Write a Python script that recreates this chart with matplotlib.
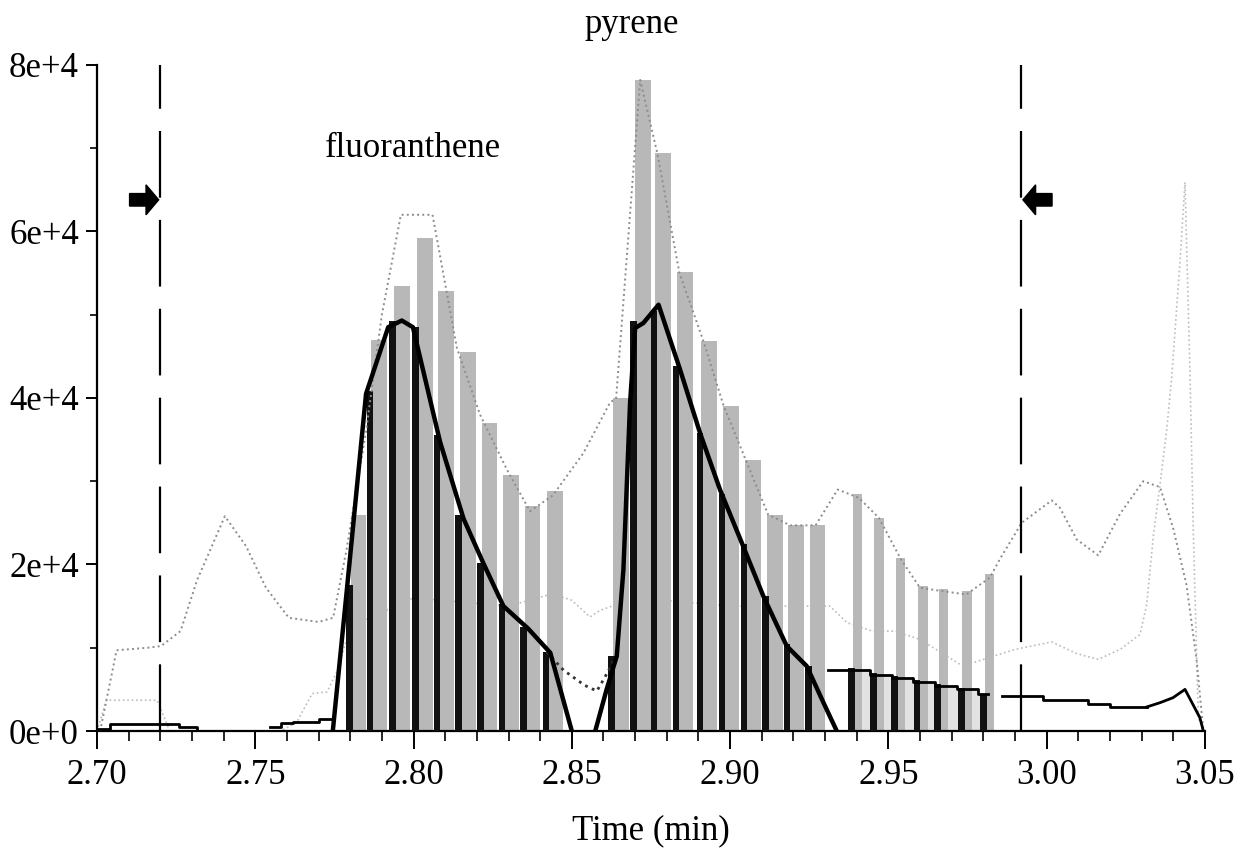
import numpy as np
import matplotlib
matplotlib.use("Agg")
import matplotlib.pyplot as plt
from matplotlib.patches import FancyArrow
from matplotlib.ticker import MultipleLocator, FuncFormatter

plt.rcParams['font.family'] = ['Liberation Serif', 'DejaVu Serif']
plt.rcParams['font.size'] = 25

# scan times (min) and intensities (units of 1e4)
scan_fl = [2.7797, 2.7863, 2.7934, 2.8007, 2.8074, 2.8142, 2.8211, 2.8279, 2.8347, 2.8418]
dark_fl = [1.75, 4.08, 4.92, 4.85, 3.55, 2.60, 2.02, 1.52, 1.25, 0.95]
light_fl = [2.60, 4.70, 5.35, 5.92, 5.28, 4.55, 3.70, 3.07, 2.70, 2.88]

scan_py = [2.8626, 2.8695, 2.8760, 2.8829, 2.8905, 2.8974, 2.9044, 2.9112, 2.9180, 2.9247]
dark_py = [0.90, 4.92, 5.05, 4.38, 3.58, 2.85, 2.25, 1.62, 1.04, 0.78]
light_py = [4.00, 7.82, 6.94, 5.51, 4.68, 3.90, 3.25, 2.60, 2.47, 2.47]

scan_tail = [2.9384, 2.9452, 2.9520, 2.9590, 2.9655, 2.9730, 2.9800]
dark_tail = [0.76, 0.70, 0.66, 0.61, 0.56, 0.52, 0.45]
light_tail = [2.85, 2.56, 2.08, 1.74, 1.70, 1.68, 1.88]

# total ion trace (upper dotted)
tic_t = [2.7010, 2.7062, 2.7160, 2.7202, 2.7264, 2.7316, 2.7404, 2.7471, 2.7534, 2.7606,
         2.7700, 2.7746, 2.7788, 2.7850, 2.7900, 2.7960, 2.8060, 2.8137, 2.8210, 2.8295,
         2.8368, 2.8440, 2.8537, 2.8620, 2.8640, 2.8716, 2.8770, 2.8840, 2.8916, 2.8980,
         2.9050, 2.9120, 2.9190, 2.9270, 2.9340, 2.9407, 2.9470, 2.9540, 2.9600, 2.9670,
         2.9746, 2.9820, 2.9853, 2.9921, 3.0016, 3.0042, 3.0095, 3.0163, 3.0232, 3.0305,
         3.0358, 3.0400, 3.0442, 3.0474, 3.0495]
tic_y = [0.00, 0.97, 1.00, 1.02, 1.20, 1.81, 2.58, 2.22, 1.72, 1.36,
         1.31, 1.36, 2.17, 3.60, 5.00, 6.20, 6.20, 4.60, 3.80, 3.14,
         2.64, 2.83, 3.34, 3.94, 4.00, 7.82, 6.94, 5.50, 4.68, 3.90,
         3.25, 2.60, 2.47, 2.47, 2.90, 2.80, 2.56, 2.06, 1.72, 1.68,
         1.64, 1.84, 2.07, 2.50, 2.77, 2.68, 2.30, 2.11, 2.61, 3.00,
         2.93, 2.43, 1.75, 0.84, 0.00]

# second ion trace (lower dotted)
ion2_t = [2.7000, 2.7030, 2.7190, 2.7230, 2.7580, 2.7630, 2.7680, 2.7727, 2.7760, 2.7800,
          2.8000, 2.8300, 2.8440, 2.8500, 2.8557, 2.8590, 2.8700, 2.9000, 2.9315, 2.9370,
          2.9450, 2.9520, 2.9600, 2.9735, 2.9800, 2.9900, 3.0016, 3.0095, 3.0163, 3.0232,
          3.0295, 3.0316, 3.0337, 3.0363, 3.0379, 3.0395, 3.0421, 3.0437, 3.0453, 3.0463,
          3.0479, 3.0495]
ion2_y = [0.00, 0.37, 0.37, 0.00, 0.00, 0.10, 0.45, 0.47, 0.73, 1.25,
          1.60, 1.50, 1.65, 1.57, 1.37, 1.45, 1.60, 1.50, 1.50, 1.30,
          1.20, 1.20, 1.10, 0.78, 0.86, 0.98, 1.07, 0.93, 0.86, 0.98,
          1.16, 1.52, 2.34, 3.11, 3.61, 4.25, 5.62, 6.59, 4.25, 2.43,
          0.16, 0.00]

# third ion trace (darker dotted, only visible between the peaks)
ion3_t = [2.8420, 2.8474, 2.8540, 2.8579, 2.8605, 2.8640]
ion3_y = [0.95, 0.73, 0.55, 0.48, 0.65, 0.90]

# fitted peak profiles (thick black)
fit_fl_t = [2.7745, 2.7790, 2.7850, 2.7920, 2.7963, 2.7998, 2.8084, 2.8158, 2.8220,
            2.8284, 2.8362, 2.8432, 2.8500]
fit_fl_y = [0.00, 1.72, 4.05, 4.85, 4.93, 4.85, 3.47, 2.55, 2.02, 1.50, 1.23, 0.94, 0.00]
fit_py_t = [2.8574, 2.8610, 2.8642, 2.8663, 2.8684, 2.8700, 2.8726, 2.8774, 2.8842,
            2.8905, 2.8968, 2.9037, 2.9105, 2.9179, 2.9242, 2.9295, 2.9337]
fit_py_y = [0.00, 0.50, 0.90, 1.94, 3.94, 4.84, 4.90, 5.12, 4.34, 3.58, 2.90, 2.26,
            1.62, 1.02, 0.78, 0.34, 0.00]

# residual (thin black steps)
res_a_t = [2.7000, 2.7040, 2.7260, 2.7316]
res_a_y = [0.03, 0.08, 0.05, 0.00]
res_b_t = [2.7547, 2.7580, 2.7620, 2.7700, 2.7745]
res_b_y = [0.05, 0.10, 0.11, 0.14, 0.17]
res_c_t = [2.9309, 2.9442, 2.9512, 2.9578, 2.9647, 2.9716, 2.9783, 2.9815]
res_c_y = [0.73, 0.67, 0.64, 0.59, 0.54, 0.50, 0.45, 0.45]
res_d_t = [2.9859, 2.9988, 3.0130, 3.0200, 3.0317]
res_d_y = [0.42, 0.37, 0.33, 0.29, 0.29]
res_e_t = [3.0317, 3.0358, 3.0399, 3.0437, 3.0484, 3.0495]
res_e_y = [0.29, 0.34, 0.40, 0.50, 0.16, 0.00]

window = [2.72, 2.992]
arrow_level = 6.38

E4 = 1e4
scan = np.array(scan_fl + scan_py + scan_tail)
dark = np.array(dark_fl + dark_py + dark_tail) * E4
light = np.array(light_fl + light_py + light_tail) * E4
# light bars are wide inside the two peaks and narrow in the tail
light_w = np.array([0.0050] * (len(scan_fl) + len(scan_py)) + [0.0030] * len(scan_tail))

fig = plt.figure(figsize=(12.48, 8.52), dpi=100)
ax = fig.add_axes([0.0777, 0.142, 0.8878, 0.7818])

# residual box area under the tail steps
fill_t = np.maximum(res_c_t, scan_tail[0])
ax.fill_between(fill_t, np.array(res_c_y) * E4, step='post', color='#e2e2e2', lw=0, zorder=1)

ax.plot(ion2_t, np.array(ion2_y) * E4, ls=':', lw=1.2, color='#bcbcbc', zorder=1.5)
ax.bar(scan + 0.0004, light, width=light_w, align='edge', color='#b8b8b8', lw=0, zorder=2)
ax.bar(scan, dark, width=0.0021, color='#111111', lw=0, zorder=3)

ax.plot(tic_t, np.array(tic_y) * E4, ls=':', lw=1.4, color='#8c8c8c', zorder=4)
ax.plot(ion3_t, np.array(ion3_y) * E4, ls=':', lw=2.0, color='#333333', zorder=4)

for t, y in [(res_a_t, res_a_y), (res_b_t, res_b_y), (res_c_t, res_c_y), (res_d_t, res_d_y)]:
    ax.plot(t, np.array(y) * E4, drawstyle='steps-post', color='black', lw=2.0, zorder=5)
ax.plot(res_e_t, np.array(res_e_y) * E4, color='black', lw=2.0, zorder=5)

ax.plot(fit_fl_t, np.array(fit_fl_y) * E4, color='black', lw=3.2, zorder=6, solid_joinstyle='round')
ax.plot(fit_py_t, np.array(fit_py_y) * E4, color='black', lw=3.2, zorder=6, solid_joinstyle='round')

for x in window:
    ax.plot([x, x], [0, 8 * E4], color='black', lw=1.6, dashes=(30, 10), zorder=7)

# integration window arrows
ax.add_patch(FancyArrow(window[0] - 0.0097, arrow_level * E4, 0.0092, 0, width=0.15 * E4,
                        head_width=0.36 * E4, head_length=0.0040, color='black',
                        length_includes_head=True, zorder=8))
ax.add_patch(FancyArrow(window[1] + 0.0097, arrow_level * E4, -0.0092, 0, width=0.15 * E4,
                        head_width=0.36 * E4, head_length=0.0040, color='black',
                        length_includes_head=True, zorder=8))

ax.text(2.772, 7.0 * E4, 'fluoranthene', ha='left', va='center')
ax.text(2.869, 8.48 * E4, 'pyrene', ha='center', va='center', clip_on=False)

ax.set_xlim(2.70, 3.05)
ax.set_ylim(0, 8 * E4)
ax.xaxis.set_major_locator(MultipleLocator(0.05))
ax.xaxis.set_minor_locator(MultipleLocator(0.01))
ax.yaxis.set_major_locator(MultipleLocator(2 * E4))
ax.yaxis.set_minor_locator(MultipleLocator(E4))
ax.xaxis.set_major_formatter(FuncFormatter(lambda v, p: f'{v:.2f}'))
ax.yaxis.set_major_formatter(FuncFormatter(lambda v, p: f'{int(round(v / E4))}e+{4 if v else 0}'))

for s in ['top', 'right']:
    ax.spines[s].set_visible(False)
for s in ['left', 'bottom']:
    ax.spines[s].set_linewidth(1.6)
ax.tick_params(axis='x', which='major', length=13, width=1.4, pad=7)
ax.tick_params(axis='x', which='minor', length=7, width=1.2)
ax.tick_params(axis='y', which='major', length=8, width=1.4, pad=5)
ax.tick_params(axis='y', which='minor', length=5, width=1.2)
ax.set_xlabel('Time (min)', labelpad=16)

fig.savefig('out.png', dpi=100)
